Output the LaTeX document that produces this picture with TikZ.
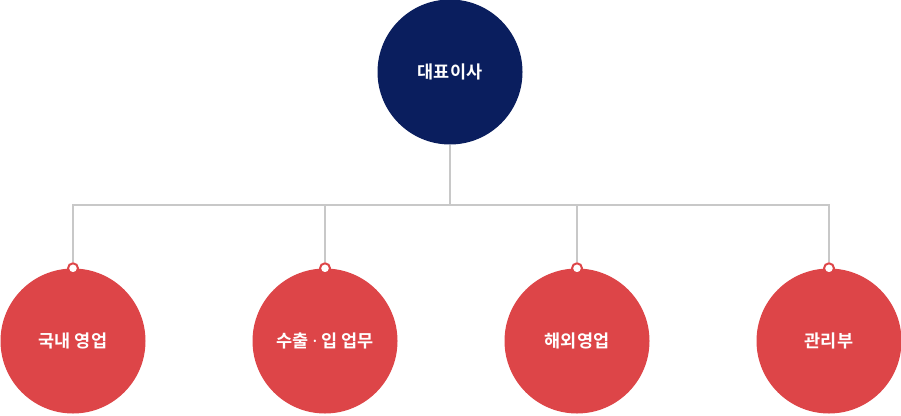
\documentclass[tikz,border=0pt]{standalone}
\usepackage{fontspec}
\setmainfont{Noto Sans CJK KR}[BoldFont={Noto Sans CJK KR Bold}]
\newfontfamily\dotfont{Noto Sans}
\usepackage{tikz}

\definecolor{ceoblue}{RGB}{10,30,94}
\definecolor{deptred}{RGB}{221,69,72}
\definecolor{linegray}{RGB}{200,200,200}

\tikzset{
  head/.style={circle, fill=ceoblue, minimum size=145pt, inner sep=0pt, text=white, font=\bfseries\fontsize{17.5}{20}\selectfont},
  dept/.style={circle, fill=deptred, minimum size=145pt, inner sep=0pt, text=white, font=\bfseries\fontsize{17.5}{20}\selectfont},
  pin/.style={circle, fill=white, draw=deptred, line width=2pt, minimum size=10pt, inner sep=0pt},
  link/.style={draw=linegray, line width=1.5pt}
}

\begin{document}
\begin{tikzpicture}[x=1pt,y=-1pt]
            \useasboundingbox (0,0) rectangle (901,415);

            \node[head] (CEO) at (450,72) {대표이사};

            \node[dept] (Dom) at (73,341) {국내 영업};
            \node[dept] (Trade) at (325,341) {수출 {\dotfont\bfseries·} 입 업무};
            \node[dept] (Abroad) at (577,341) {해외영업};
            \node[dept] (Admin) at (829,341) {관리부};

            \coordinate (Bus) at (450,205);

            \node[pin] (DomPin) at (Dom.north) {};
            \node[pin] (TradePin) at (Trade.north) {};
            \node[pin] (AbroadPin) at (Abroad.north) {};
            \node[pin] (AdminPin) at (Admin.north) {};

            \path[link] (CEO) -- (Bus);
            \path[link] (Bus) -| (DomPin);
            \path[link] (Bus) -| (TradePin);
            \path[link] (Bus) -| (AbroadPin);
            \path[link] (Bus) -| (AdminPin);

        \end{tikzpicture}
\end{document}
